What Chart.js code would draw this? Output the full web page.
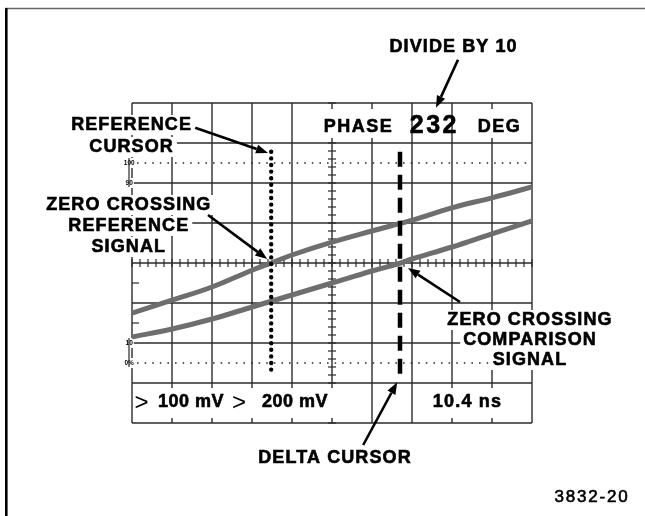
<!DOCTYPE html>
<html>
<head>
<meta charset="utf-8">
<script src="https://cdn.jsdelivr.net/npm/chart.js@4.4.0/dist/chart.umd.min.js"></script>
<style>
  html, body { margin: 0; padding: 0; background: #fff; }
</style>
</head>
<body>
<canvas id="scope" width="645" height="516"></canvas>
<script>
// graticule, in screen divisions (x 0..10, y -4..4)
const divX = [0, 1, 2, 3, 4, 5, 6, 7, 8, 9, 10];
const divY = [-4, -3, -2, -1, 0, 1, 2, 3, 4];

// reference signal trace
const refX = [0, 1, 2, 3, 3.48, 4, 5, 6, 7, 8, 9, 10];
const refY = [-1.25, -0.93, -0.6, -0.18, 0, 0.2, 0.52, 0.8, 1.07, 1.38, 1.63, 1.9];

// comparison signal trace
const cmpX = [0, 1, 2, 3, 4, 5, 6, 6.72, 7, 8, 9, 10];
const cmpY = [-1.85, -1.65, -1.4, -1.1, -0.8, -0.5, -0.2, 0, 0.1, 0.4, 0.73, 1.05];

// cursors: x position and the two ends
const refCursor = [3.48, 2.78, -2.75];
const deltaCursor = [6.7, 2.78, -2.8];

// rise time levels at the left edge
const levelLabels = ['100', '90', '10', '0%'];
const levelY = [2.5, 2, -2, -2.5];

// readouts
const phaseText = ['PHASE', '232', 'DEG'];
const voltText = ['100 mV', '200 mV'];
const timeText = '10.4 ns';

const ink = '#2b2b2b';
const labelFont = 'bold 18px "Liberation Sans", Arial, sans-serif';

const toPts = (xs, ys) => xs.map((v, i) => ({ x: v, y: ys[i] }));

function seg(ctx, x1, y1, x2, y2) {
  ctx.beginPath();
  ctx.moveTo(x1, y1);
  ctx.lineTo(x2, y2);
  ctx.stroke();
}

function mask(ctx, x, y, w, h) {
  ctx.fillStyle = '#fff';
  ctx.fillRect(x, y, w, h);
}

// bold print look: fill plus a thin outline
function heavyText(ctx, t, x, y) {
  ctx.fillStyle = '#000';
  ctx.strokeStyle = '#000';
  ctx.lineWidth = 0.6;
  ctx.fillText(t, x, y);
  ctx.strokeText(t, x, y);
}

function arrow(ctx, x1, y1, x2, y2) {
  const a = Math.atan2(y2 - y1, x2 - x1);
  const len = 12, hw = 4.5;
  const bx = x2 - Math.cos(a) * len, by = y2 - Math.sin(a) * len;
  ctx.strokeStyle = '#000';
  ctx.lineWidth = 2.6;
  seg(ctx, x1, y1, bx, by);
  ctx.fillStyle = '#000';
  ctx.beginPath();
  ctx.moveTo(x2, y2);
  ctx.lineTo(bx + Math.sin(a) * hw, by - Math.cos(a) * hw);
  ctx.lineTo(bx - Math.sin(a) * hw, by + Math.cos(a) * hw);
  ctx.closePath();
  ctx.fill();
}

// callout labels with arrows (positions in divisions)
const callouts = [
  { lines: ['DIVIDE BY 10'], at: [8.04, 5.4], lh: 0, from: [8.15, 5.08], to: [7.6, 3.88] },
  { lines: ['REFERENCE', 'CURSOR'], at: [-0.01, 3.45], lh: 22, from: [1.58, 3.38], to: [3.4, 2.75] },
  { lines: ['ZERO CROSSING', 'REFERENCE', 'SIGNAL'], at: [-0.08, 1.45], lh: 21, from: [1.9, 1.2], to: [3.38, 0.1] },
  { lines: ['ZERO CROSSING', 'COMPARISON', 'SIGNAL'], at: [9.95, -1.425], lh: 20, from: [8.2, -0.975], to: [6.9, -0.125] },
  { lines: ['DELTA CURSOR'], at: [5.075, -4.875], lh: 0, from: [5.78, -4.55], to: [6.63, -2.98] }
];

const scopeArt = {
  id: 'scopeArt',
  beforeDatasetsDraw(chart) {
    const { ctx, scales: { x, y } } = chart;
    const X = v => x.getPixelForValue(v), Y = v => y.getPixelForValue(v);
    ctx.save();
    ctx.strokeStyle = ink;
    ctx.lineWidth = 1.4;
    divX.forEach(d => seg(ctx, X(d), Y(4), X(d), Y(-4)));
    divY.forEach(d => seg(ctx, X(0), Y(d), X(10), Y(d)));

    // minor ticks on the centre lines
    ctx.lineWidth = 1.2;
    for (let t = 0; t <= 50; t++) {
      const px = X(t * 0.2);
      seg(ctx, px, Y(0) - 4, px, Y(0) + 4);
    }
    for (let t = -20; t <= 20; t++) {
      const py = Y(t * 0.2);
      seg(ctx, X(5) - 4, py, X(5) + 4, py);
    }
    [-0.5, -1.5].forEach(v => seg(ctx, X(0), Y(v), X(0) + 7, Y(v)));

    // dotted 0% / 100% levels
    ctx.setLineDash([1.6, 6]);
    ctx.lineWidth = 1.6;
    [levelY[0], levelY[3]].forEach(v => seg(ctx, X(0) + 5, Y(v), X(10) - 4, Y(v)));
    ctx.setLineDash([]);

    // small level labels
    ctx.font = 'bold 6.5px "Liberation Sans", Arial, sans-serif';
    ctx.textAlign = 'center';
    ctx.textBaseline = 'middle';
    levelLabels.forEach((t, i) => {
      const w = ctx.measureText(t).width;
      const cx = X(-0.07), cy = Y(levelY[i]);
      mask(ctx, cx - w / 2 - 1, cy - 5, w + 2, 10);
      ctx.fillStyle = '#000';
      ctx.fillText(t, cx, cy);
    });
    ctx.lineWidth = 1.2;
    ctx.strokeStyle = ink;
    seg(ctx, X(0) - 3, Y(levelY[0]) - 5, X(0) - 3, Y(levelY[1]) + 4);
    seg(ctx, X(0) - 3, Y(levelY[2]) - 5, X(0) - 3, Y(levelY[3]) + 4);

    // top readout
    const rowTop = Y(3.4);
    ctx.font = labelFont;
    ctx.letterSpacing = '1.5px';
    [[phaseText[0], 5.66], [phaseText[2], 9.19]].forEach(([t, d]) => {
      const w = ctx.measureText(t).width;
      mask(ctx, X(d) - w / 2 - 4, Y(4) + 6, w + 8, 29);
      heavyText(ctx, t, X(d), rowTop);
    });
    ctx.font = 'bold 25px "Liberation Sans", Arial, sans-serif';
    ctx.letterSpacing = '2.5px';
    heavyText(ctx, phaseText[1], X(7.56), rowTop - 1);

    // bottom readout
    const rowBot = Y(-3.475);
    mask(ctx, X(0) + 2, Y(-3) + 5, X(5.2) - X(0), 30);
    mask(ctx, X(7.37), Y(-3) + 5, X(9.45) - X(7.37), 30);
    ctx.textAlign = 'left';
    ctx.fillStyle = '#000';
    ctx.letterSpacing = '0px';
    ctx.font = '24px "Liberation Sans", Arial, sans-serif';
    ctx.fillText('>', X(0.06), rowBot + 1);
    ctx.fillText('>', X(2.5), rowBot + 1);
    ctx.font = labelFont;
    ctx.letterSpacing = '0.5px';
    heavyText(ctx, voltText[0], X(0.65), rowBot);
    heavyText(ctx, voltText[1], X(3.25), rowBot);
    ctx.letterSpacing = '1.2px';
    heavyText(ctx, timeText, X(7.52), rowBot);
    ctx.restore();
  },
  afterDatasetsDraw(chart) {
    const { ctx, scales: { x, y } } = chart;
    const X = v => x.getPixelForValue(v), Y = v => y.getPixelForValue(v);
    ctx.save();
    ctx.font = labelFont;
    ctx.letterSpacing = '1.1px';
    ctx.textAlign = 'center';
    ctx.textBaseline = 'middle';
    callouts.forEach(c => {
      c.lines.forEach((t, i) => {
        const cx = X(c.at[0]), cy = Y(c.at[1]) + i * c.lh;
        const w = ctx.measureText(t).width;
        mask(ctx, cx - w / 2 - 3, cy - 10, w + 6, 20);
        heavyText(ctx, t, cx, cy);
      });
      arrow(ctx, X(c.from[0]), Y(c.from[1]), X(c.to[0]), Y(c.to[1]));
    });

    // figure frame and number
    ctx.strokeStyle = '#666';
    ctx.lineWidth = 1.6;
    seg(ctx, 5, 8.5, 645, 8.5);
    ctx.strokeStyle = '#000';
    ctx.lineWidth = 2.6;
    seg(ctx, 6.3, 8, 6.3, 516);
    ctx.font = '17px "Liberation Sans", Arial, sans-serif';
    ctx.letterSpacing = '1.8px';
    heavyText(ctx, '3832-20', 592, 497);
    ctx.restore();
  }
};

new Chart(document.getElementById('scope'), {
  type: 'scatter',
  data: {
    datasets: [
      {
        data: toPts([refCursor[0], refCursor[0]], [refCursor[1], refCursor[2]]),
        showLine: true,
        borderColor: '#000',
        borderWidth: 4.4,
        borderDash: [0, 6.6],
        borderCapStyle: 'round',
        pointRadius: 0
      },
      {
        data: toPts([deltaCursor[0], deltaCursor[0]], [deltaCursor[1], deltaCursor[2]]),
        showLine: true,
        borderColor: '#000',
        borderWidth: 4.5,
        borderDash: [15, 8],
        pointRadius: 0
      },
      {
        data: toPts(refX, refY),
        showLine: true,
        borderColor: '#6e6e6e',
        borderWidth: 5,
        tension: 0.4,
        pointRadius: 0
      },
      {
        data: toPts(cmpX, cmpY),
        showLine: true,
        borderColor: '#6e6e6e',
        borderWidth: 5,
        tension: 0.4,
        pointRadius: 0
      }
    ]
  },
  options: {
    responsive: false,
    animation: false,
    devicePixelRatio: 1,
    events: [],
    layout: { padding: { left: 132, right: 113, top: 103, bottom: 93 } },
    scales: {
      x: { type: 'linear', display: false, min: 0, max: 10 },
      y: { type: 'linear', display: false, min: -4, max: 4 }
    },
    plugins: {
      legend: { display: false },
      tooltip: { enabled: false }
    }
  },
  plugins: [scopeArt]
});
</script>
</body>
</html>
